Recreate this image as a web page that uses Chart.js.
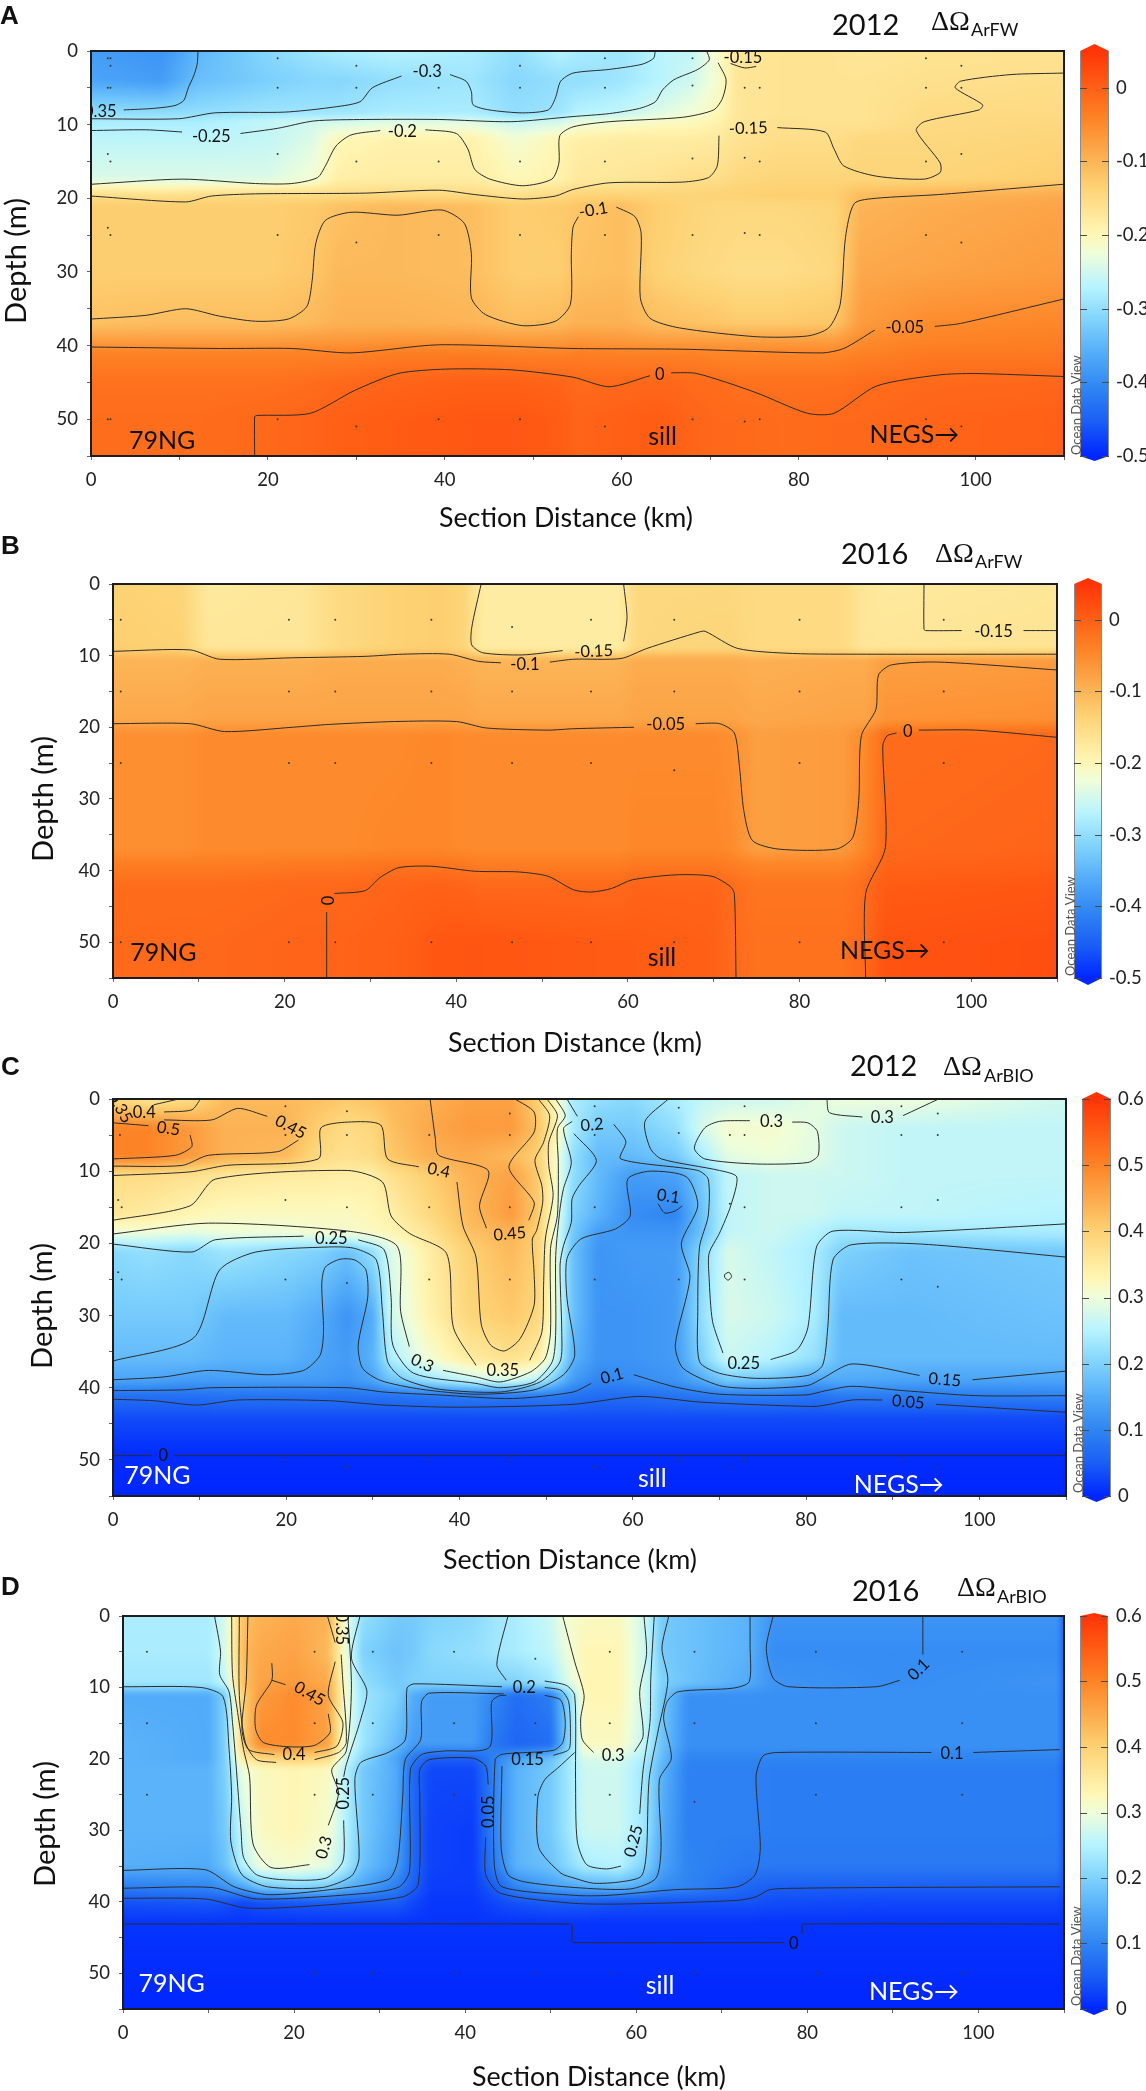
<!DOCTYPE html>
<html>
<head>
<meta charset="utf-8">
<script src="https://cdn.jsdelivr.net/npm/chart.js@4"></script>
<style>
  body { margin: 0; background: #fff; width: 1146px; height: 2091px; position: relative; overflow: hidden; }
  canvas { position: absolute; left: 0; }
</style>
</head>
<body>
<canvas id="cA"></canvas>
<canvas id="cB"></canvas>
<canvas id="cC"></canvas>
<canvas id="cD"></canvas>
<script>
// colour scale, position 0..1 along the colour bar
const cmapStops = [0, .083, .167, .25, .333, .417, .5, .55, .667, .75, .833, .917, 1];
const cmapColors = ["#0026ff", "#1a5ef5", "#2f85f2", "#52abf9", "#7ed2fc", "#b6f3ff", "#effeda", "#fff6b4", "#fdd172", "#fcaa4c", "#fd8426", "#ff5c14", "#ff3508"];

const xTicks = [0, 20, 40, 60, 80, 100];
const depthTicks = [0, 10, 20, 30, 40, 50];
const cbTicksFW = [0, -0.1, -0.2, -0.3, -0.4, -0.5];
const cbTicksBIO = [0.6, 0.5, 0.4, 0.3, 0.2, 0.1, 0];

// ---- Panel A, 2012 dOmega ArFW ----
const xKmA = [0, 8, 12, 20, 25, 28, 34, 43, 48, 53, 55, 60, 64, 68, 71, 73, 78, 84, 87, 95, 110];
const depthA = [0, 4, 8.5, 9.5, 12, 17.5, 19.5, 21, 30, 37, 39.5, 41, 45, 50, 55];
const fieldA = [
  [-.38, -.39, -.35, -.31, -.29, -.28, -.27, -.28, -.30, -.27, -.28, -.29, -.27, -.26, -.21, -.17, -.165, -.165, -.17, -.165, -.165],
  [-.37, -.38, -.34, -.32, -.31, -.31, -.30, -.29, -.31, -.30, -.30, -.29, -.27, -.25, -.215, -.17, -.165, -.165, -.165, -.16, -.155],
  [-.30, -.30, -.30, -.29, -.29, -.29, -.28, -.28, -.30, -.29, -.27, -.26, -.24, -.22, -.20, -.17, -.165, -.165, -.165, -.15, -.15],
  [-.28, -.28, -.28, -.26, -.25, -.25, -.24, -.24, -.26, -.25, -.23, -.22, -.21, -.205, -.19, -.17, -.16, -.165, -.165, -.15, -.145],
  [-.265, -.265, -.265, -.26, -.24, -.20, -.19, -.19, -.22, -.195, -.185, -.18, -.18, -.18, -.175, -.165, -.155, -.155, -.145, -.145, -.14],
  [-.24, -.24, -.24, -.24, -.22, -.185, -.18, -.18, -.20, -.19, -.175, -.17, -.165, -.155, -.155, -.145, -.14, -.14, -.14, -.14, -.13],
  [-.155, -.16, -.155, -.15, -.15, -.15, -.15, -.15, -.16, -.15, -.14, -.14, -.14, -.14, -.135, -.135, -.13, -.13, -.11, -.10, -.09],
  [-.13, -.13, -.13, -.13, -.125, -.115, -.105, -.11, -.13, -.125, -.12, -.11, -.13, -.14, -.145, -.145, -.145, -.14, -.10, -.09, -.08],
  [-.13, -.13, -.13, -.13, -.12, -.105, -.105, -.11, -.13, -.13, -.115, -.11, -.135, -.145, -.15, -.155, -.155, -.145, -.085, -.08, -.07],
  [-.115, -.11, -.11, -.11, -.105, -.095, -.095, -.1, -.11, -.105, -.095, -.095, -.11, -.115, -.12, -.125, -.125, -.12, -.07, -.05, -.045],
  [-.07, -.07, -.07, -.07, -.065, -.065, -.06, -.06, -.065, -.065, -.06, -.065, -.07, -.07, -.07, -.07, -.07, -.07, -.05, -.04, -.035],
  [-.04, -.04, -.04, -.04, -.04, -.04, -.035, -.035, -.04, -.04, -.035, -.04, -.04, -.04, -.045, -.045, -.045, -.045, -.04, -.03, -.03],
  [-.02, -.02, -.02, -.02, -.015, -.01, -.005, 0, 0, -.005, -.012, -.01, -.008, -.012, -.015, -.02, -.02, -.02, -.015, -.01, -.008],
  [-.015, -.015, -.015, -.01, -.005, 0, .005, .01, .01, .005, -.005, 0, .005, -.005, -.01, -.01, -.015, -.01, -.01, -.005, 0],
  [-.015, -.015, -.015, -.01, -.005, 0, .005, .01, .01, .005, -.005, 0, .005, -.005, -.01, -.01, -.015, -.01, -.01, -.005, 0]
];
const contoursA = [
  [[3.7,8],[7,7.8],[9.5,7.4],[10.5,6.7],[11,5],[11.6,3.4],[12,1.8],[12.1,0]],
  [[0,9.2],[9.9,9.2],[14,8.4],[21.9,8.3],[26.9,7.7],[30.4,6.9],[31.8,5],[35.1,3.4]],
  [[40.6,3.2],[42.4,4.1],[43,5.5],[43.2,7.3],[45,8],[48.8,8.4],[51.7,8],[52.5,6.4],[53.1,4.1],[54.5,3],[58.6,2.5],[62.3,1.8],[63.6,1],[63.8,0]],
  [[0,10.8],[6.2,10.7],[10.3,11]],
  [[16.9,11.2],[21.1,10.5],[25.2,9.5],[31,9.3],[39.3,9.3],[47.5,9.6],[54.5,8.9],[58.6,8.5],[62,7.8],[63.8,6.9],[64.6,5.3],[65.9,3.9],[68.6,2.5],[69.9,1.2],[69.6,0]],
  [[0,18.1],[10.3,17.4],[18.6,18],[22.7,18],[25.6,17.2],[26.5,15.6],[27.7,12.9],[29.4,11.4],[32.7,10.8]],
  [[37.8,10.7],[41.3,11.2],[42.6,13.3],[43.4,16.1],[45.1,17.4],[48.8,18.3],[52.1,17.4],[52.9,15.2],[53,11.5],[54.5,10.3],[58.6,9.6],[66.9,9],[70.4,8],[71.4,6.4],[71.8,3.9],[70.9,1.6]],
  [[0,19.7],[10.7,20.5],[13.6,19.7],[18.6,19.4],[31,19.3],[39.3,18.9],[43.4,19.5],[48.8,20.1],[52.5,19.7],[54.5,18.8],[58.6,17.9],[66.9,17.8],[69.8,17.2],[70.8,15.6],[71,11.5]],
  [[77.6,10.4],[83,11],[84,13.3],[85.1,15.6],[88.8,17],[94.2,17.4],[96,16.5],[96,15.2],[93.3,10.8],[94.2,9.6],[100.4,8],[100.8,7.3],[97.7,5],[98.3,4.1],[104,3.2],[109.9,3]],
  [[72.3,1.7],[73.9,2.3],[75.2,2.1]],
  [[0,36.4],[6.2,35.9],[10.7,35],[14.5,36],[18.6,36.7],[22.3,36.4],[24.4,34.7],[25,31.2],[25.4,26.2],[26.5,23],[29.4,21.9],[34.7,22.3],[39.7,21.6],[42.2,23.4],[43,27.5],[43,33.5],[44.6,35.8],[48.8,37.3],[52.5,36.7],[54.2,34.4],[54.3,27.5],[54.5,23.9],[55.1,22.5]],
  [[59.4,21.2],[61.5,22.5],[62.2,24.8],[62.1,33.5],[63.2,36.3],[66.5,37.6],[75.2,38.8],[81,38.7],[83.4,37.6],[84.7,34.4],[85.3,25.3],[86.3,20.7],[88.8,20],[95.8,19.5],[109.9,18.1]],
  [[0,40.2],[14.5,40.4],[22.7,40.4],[29.4,41],[39.3,39.9],[54.5,40.4],[66.9,40.5],[82.6,41],[85.1,40.4],[88.6,37.9]],
  [[95.4,37.4],[98.3,37],[109.9,33.7]],
  [[18.5,55],[18.5,49.7],[18.7,49.5],[24.8,49.2],[29.8,46.1],[34.7,43.8],[40.1,43.2],[47.5,43.3],[54.5,44.3],[58.6,45.6],[63.2,44.1]],
  [[65.6,43.7],[68.5,43.8],[75.2,46.4],[81,49.2],[84,49.2],[88.8,45.5],[95.8,44],[99.9,43.8],[109.9,44.2]]
];
const labelsA = [["-0.35",0.7,8.2,0],["-0.3",38,2.8,0],["-0.25",13.6,11.6,0],["-0.2",35.2,10.9,0],["-0.15",74.3,10.5,-2],["-0.15",73.7,0.9,0],["-0.1",56.8,21.6,-10],["-0.05",92,37.6,0],["0",64.3,43.9,0]];
const stationsA = [
  [1.9,1],[1.9,5],[1.9,14],[1.9,24],[1.9,50],[2.2,1],[2.2,2],[2.2,5],[2.2,15],[2.2,25],[2.2,50],
  [21.1,1],[21.1,5],[21.1,14],[21.1,25],[21.1,50],[30,2],[30,5],[30,15],[30,26],[30,51],
  [39.3,5],[39.3,15],[39.3,25],[39.3,50],[48.5,2],[48.5,5],[48.5,15],[48.5,25],[48.5,50],
  [58.1,1],[58.1,5],[58.1,15],[58.1,25],[58.1,51],[68,1],[68,4.7],[68,14.6],[68,25],[68,50],
  [73.9,5],[73.9,14.5],[73.9,24.7],[73.9,50.3],[75.6,5],[75.6,15],[75.6,25],[75.6,50],
  [94.4,1],[94.4,5],[94.4,15],[94.4,25],[94.4,50],[98.4,2],[98.4,5],[98.4,14],[98.4,26],[98.4,51]
];

// ---- Panel B, 2016 dOmega ArFW ----
const xKmB = [0, 8, 11, 22, 26, 33, 38, 41, 43, 59, 61, 70, 72, 75, 85, 87.5, 90, 110];
const depthB = [0, 9, 10.5, 19, 21, 37, 39, 42, 50, 55];
const fieldB = [
  [-.135, -.14, -.175, -.17, -.15, -.135, -.13, -.14, -.18, -.18, -.145, -.145, -.145, -.15, -.15, -.17, -.175, -.17],
  [-.13, -.135, -.17, -.17, -.15, -.135, -.13, -.14, -.18, -.18, -.145, -.14, -.14, -.15, -.15, -.17, -.17, -.165],
  [-.1, -.1, -.095, -.095, -.09, -.09, -.09, -.095, -.1, -.1, -.09, -.09, -.09, -.095, -.09, -.09, -.075, -.07],
  [-.085, -.085, -.08, -.08, -.08, -.08, -.08, -.08, -.085, -.085, -.08, -.08, -.08, -.085, -.08, -.08, -.06, -.055],
  [-.055, -.055, -.05, -.05, -.05, -.05, -.045, -.05, -.05, -.05, -.05, -.05, -.055, -.075, -.07, -.05, -.015, -.01],
  [-.055, -.055, -.05, -.05, -.05, -.045, -.045, -.05, -.05, -.05, -.045, -.045, -.05, -.075, -.07, -.045, -.01, -.005],
  [-.035, -.035, -.035, -.03, -.03, -.025, -.025, -.03, -.035, -.035, -.03, -.03, -.035, -.045, -.045, -.03, -.005, 0],
  [-.015, -.015, -.015, -.01, -.01, -.005, -.002, -.005, -.01, -.01, -.005, -.005, -.015, -.025, -.025, -.015, .005, .01],
  [-.012, -.01, -.01, -.005, -.005, 0, .01, .012, .012, .005, .005, 0, -.012, -.02, -.02, -.01, .015, .02],
  [-.012, -.01, -.01, -.005, -.005, 0, .01, .012, .012, .005, .005, 0, -.012, -.02, -.02, -.01, .015, .02]
];
const contoursB = [
  [[0,9.4],[9,9.2],[12.4,10.5],[20.9,10.3],[29.4,10.1],[33.7,9.8],[39.2,9.8],[42.6,10.8],[45.2,11]],
  [[50.9,10.9],[53.7,10.5],[59.2,10.4],[62.2,9],[68.3,6.7],[69,6.6],[72.8,9],[79.2,9.7],[87.8,9.8],[110,9.8]],
  [[42.9,0],[41.8,6.1],[41.8,8.5],[43.1,9.6],[47.7,9.9],[52.4,9.3]],
  [[59.5,8],[59.9,4.7],[59.5,0]],
  [[94.5,0],[94.5,6.3],[94.7,6.5],[98.9,6.5]],
  [[106.1,6.5],[110,6.5]],
  [[0,19.5],[9,19.5],[13,20.6],[20.9,20],[25.2,19.6],[32.8,19.2],[40,19.2],[43.5,20.1],[50.7,20.4],[53.7,20.2],[60.7,20]],
  [[67.9,19.5],[70.7,19.5],[72.4,20.8],[73,25.5],[73.5,31.6],[74.5,35.8],[77.5,37],[84.3,37],[86.2,35.4],[86.9,30.2],[87.2,21.2],[88.9,17.5],[89.2,12.7],[90.7,11.3],[96.2,10.9],[110,12]],
  [[24.9,55],[24.9,45.8]],
  [[25.8,43.2],[29.4,42.8],[31.1,41],[33.3,39.6],[37.1,39.4],[42.2,40.1],[47.3,40.2],[50.7,40.8],[53.7,42.7],[55.8,43],[58.1,42.5],[60.5,41.3],[65.6,40.6],[69.8,40.8],[71.9,42.2],[72.4,43.2],[72.6,55]],
  [[87.7,55],[87.7,43.2],[90,36.8],[89.7,22.6],[90.2,21.2],[91.3,20.8]],
  [[93.9,20.4],[100.5,20.4],[110,21.4]]
];
const labelsB = [["-0.15",56,9.4,-3],["-0.1",48,11.2,0],["-0.15",102.6,6.6,0],["-0.05",64.4,19.7,0],["0",92.6,20.6,0],["0",24.9,44.2,90]];
const stationsB = [
  [0.9,5],[0.9,15],[0.9,25],[0.9,50],[20.5,5],[20.5,15],[20.5,25],[20.5,50],[25.9,5],[25.9,15],[25.9,25],[25.9,50],
  [37.1,5],[37.1,15],[37.1,25],[37.1,50],[46.5,6],[46.5,15],[46.5,25],[46.5,50],[55.7,5],[55.7,15],[55.7,25],[55.7,50],
  [65.4,5],[65.4,15],[65.4,26],[65.4,50],[80,5],[80,15],[80,25],[80,50],[96.8,5],[96.8,15],[96.8,25],[96.8,50]
];

// ---- Panel C, 2012 dOmega ArBIO ----
const xKmC = [0, 4, 9, 13, 20, 24, 27, 30, 32, 36, 41, 46, 49, 51, 53, 56, 60, 65, 68, 71, 76, 81, 84, 92, 110];
const depthC = [0, 4, 8, 10.5, 16, 18.5, 21, 30, 36, 39, 41, 44, 49, 55];
const fieldC = [
  [.39, .36, .38, .43, .43, .42, .41, .42, .43, .44, .46, .46, .40, .33, .24, .22, .21, .24, .26, .27, .27, .29, .30, .30, .27],
  [.50, .50, .47, .44, .44, .40, .38, .39, .42, .45, .47, .47, .42, .34, .24, .19, .19, .22, .28, .31, .31, .29, .27, .26, .26],
  [.50, .50, .47, .44, .43, .38, .37, .38, .41, .44, .45, .43, .40, .32, .22, .17, .17, .19, .24, .29, .30, .29, .27, .26, .26],
  [.38, .38, .37, .36, .35, .35, .345, .345, .37, .40, .44, .46, .41, .32, .22, .17, .13, .14, .19, .26, .27, .27, .27, .26, .26],
  [.36, .35, .33, .32, .32, .32, .32, .33, .34, .38, .43, .47, .41, .31, .20, .16, .11, .10, .18, .26, .27, .27, .26, .26, .25],
  [.30, .30, .29, .30, .30, .31, .31, .32, .33, .36, .42, .44, .40, .30, .19, .13, .12, .12, .18, .26, .27, .25, .23, .23, .24],
  [.21, .22, .21, .23, .21, .20, .18, .22, .28, .34, .40, .43, .40, .30, .18, .12, .13, .13, .21, .28, .26, .24, .20, .18, .19],
  [.19, .19, .19, .17, .17, .15, .12, .15, .27, .33, .39, .41, .39, .30, .18, .12, .12, .13, .22, .28, .27, .24, .17, .17, .18],
  [.17, .17, .17, .16, .16, .14, .13, .16, .24, .30, .35, .37, .35, .27, .16, .12, .12, .13, .20, .27, .25, .22, .17, .17, .17],
  [.14, .14, .13, .13, .13, .13, .12, .14, .18, .22, .26, .28, .25, .19, .13, .10, .11, .12, .15, .19, .18, .14, .15, .14, .14],
  [.075, .075, .075, .08, .08, .08, .08, .08, .08, .085, .09, .09, .09, .09, .08, .07, .07, .08, .085, .09, .09, .08, .09, .09, .10],
  [.035, .035, .035, .035, .035, .035, .035, .035, .035, .035, .035, .035, .035, .035, .035, .035, .035, .035, .035, .035, .035, .035, .035, .035, .035],
  [.006, .006, .006, .006, .006, .006, .006, .006, .006, .006, .006, .006, .006, .006, .006, .006, .006, .006, .006, .006, .006, .006, .006, .006, .006],
  [0, 0, 0, 0, 0, 0, 0, 0, 0, 0, 0, 0, 0, 0, 0, 0, 0, 0, 0, 0, 0, 0, 0, 0, 0]
];
const contoursC = [
  [[0,49.4],[4.4,49.4]],
  [[7.1,49.4],[110,49.4]],
  [[0,41.6],[4.7,41.8],[9.7,42.4],[14.4,41.7],[24.9,41.8],[31.3,42.4],[39.7,42.7],[53.1,42.3],[60.7,41.2],[67.9,42],[80.9,42.6],[82.7,42.3],[85.3,41.7],[88.8,41.7]],
  [[95,42.3],[110,43.4]],
  [[0,40.4],[8,40.3],[11.4,40],[27,40],[31.3,40.6],[37.6,41],[46.1,41.5],[53.1,40.6],[55.2,39.4]],
  [[60.1,38.2],[64.9,39.9],[70,40.9],[80,41],[82.3,40.4],[85.3,39.8],[91.2,40.4],[99.6,41.1],[110,41.1]],
  [[0,38.9],[5.9,38.5],[11,37.6],[17.8,38.2],[22,37.6],[23.9,35.5],[24.3,32.2],[24.1,25.6],[24.5,23.3],[26.2,22.2],[27.9,22.3],[29.2,23.7],[29.4,27.5],[28.3,34.1],[28.8,37.3],[30.9,39],[35.5,40.2],[41.9,40.9],[48.6,40.3],[52,38.2],[53.3,35.5],[52.4,27.6],[52.4,22.1],[54,19.4],[58,18],[59.7,16.2],[59.4,11.1],[62,10],[66.2,10.8],[67.5,14.8],[65.6,20],[66.6,24.7],[64.9,34.1],[65.8,37.3],[70,39.7],[74.2,40.1],[80.2,39.7],[81.9,38.7],[85.3,36.7],[93.1,38.3]],
  [[99.2,38.9],[110,37.7]],
  [[0,36.3],[9.3,33.1],[12.3,23.7],[16.5,21.2],[24.9,20.5],[27.9,20.7],[30.4,22.3],[31.1,29.4],[31.7,36.4],[33.4,38.7],[37.6,40.2],[44.7,40.6],[49.3,39.2],[51.6,36.4],[51.8,32.3],[51.6,23],[52,20.3],[52.9,17.1],[53,13.8],[53.8,12],[55.8,8.5],[53.2,4.8]],
  [[52.4,0],[53.6,2.4]],
  [[57.8,3.5],[59.2,5.9],[58.6,8.3],[67.5,9.9],[68.7,11.1],[68.7,16.2],[67.7,20.5],[67.5,29.4],[67.7,36.4],[70,38],[74.2,38.7],[80.2,38.3],[81.9,36.9],[82.5,31.7],[83.1,22.3],[85.2,20.2],[93.3,20.1],[110,21.9]],
  [[0,20.1],[9.1,21.2],[11.8,19.5],[22,19]],
  [[28.3,19.5],[31.3,20.9],[32.1,27.5],[32.3,34.1],[34.7,38],[41.9,39.4],[44.7,40],[48.6,39.2],[50.7,36.4],[51.1,32.3],[51.1,21.7],[51.6,15.2],[52,12.4],[52.9,8.8],[52,4.1],[53,3.1]],
  [[64.1,0],[61.4,3.1],[62,6.8],[63.3,8.3],[70,9.9],[72,10.8],[71.3,14.8],[70,18.6],[68.8,21.4],[68.8,24.7],[69.2,30.8],[70.4,35.2]],
  [[75.9,36.1],[78.9,34.8],[80.2,31.7],[81.2,20.5],[83.1,18.3],[91.2,18.5],[110,17.3]],
  [[0,18.7],[11,17.2],[27.1,18.3],[32.8,20.4],[33.2,29.4],[34.2,34.3]],
  [[38.1,37.6],[41.9,38.5],[44.7,39.2],[48.2,37.8],[49.9,35.9],[50.5,32.3],[50.5,20.7],[51.3,16.1],[51.4,8.8],[51.3,4.1],[52.2,2.3],[51.1,0]],
  [[0,16.8],[8.9,14.8],[11.8,11.1],[27.1,9.9],[31.1,11.5],[32.1,16.2],[34.2,18.6],[38.5,21.4],[39.3,31.7],[41.9,36.9]],
  [[48.1,36.2],[49.5,32.3],[49.7,25.8],[49.9,19.4],[50.8,13.4],[50.3,9.2],[50.3,6],[51.3,2.3],[50.1,0]],
  [[0,10.6],[8.9,10.1],[13.1,9.2],[23.7,8.3],[24,4],[27.1,3.2],[30.9,3.6],[31.7,8.3],[35.3,9.4]],
  [[39.7,11.5],[40.4,17.6],[41.9,21.9],[42.5,31.2],[43.6,34.1],[45.2,34.9],[47,33.2],[48.6,28.6],[48.6,24],[48.4,19.4],[48.9,18.2],[49.6,14.3],[49.5,12],[48.7,8.5],[49.7,6],[50.4,2.3],[49.1,0]],
  [[36.6,0],[37.2,5.4],[37.6,7.8],[43.3,9.9],[42.3,14.8],[43.1,17.9]],
  [[48,16.8],[48.6,14.3],[45.7,9.4],[48.6,4.6],[48.6,1.8],[46.4,0]],
  [[0,3.3],[4.1,3.7]],
  [[8.9,5],[9.1,6.6],[7.2,7.8],[0,8.3]],
  [[5.9,2.9],[11.4,2.9],[14.4,1.3],[17.8,2.4]],
  [[21.4,5.7],[19,7.3],[11,7.8],[8,9.2],[0,9.3]],
  [[5.9,1.8],[9.1,1.5],[10.1,0]],
  [[4.7,0.8],[7.6,0]],
  [[62.9,14.5],[63.7,15.8],[64.9,15.5],[65.7,14.8]],
  [[70.6,24.3],[71.1,24],[71.4,24.6],[71,25.1],[70.6,24.7],[70.6,24.3]],
  [[82.4,0],[82.7,1.9],[86.5,2.5]],
  [[91.2,2.3],[95.3,0]],
  [[73.5,3],[70,3.1],[68.3,4],[67.1,6.8],[68.3,8.3],[74.2,9],[80.2,8.8],[81.4,7.8],[81.3,4.5],[80.2,3.3],[78.4,3.2]]
];
const labelsC = [["0.35",0.8,1.2,60],["0.4",3.6,1.9,0],["0.5",6.4,4.1,8],["0.45",20.5,3.9,28],["0.4",37.6,9.9,12],["0.45",45.8,18.7,-5],["0.35",45,37.6,0],["0.3",35.7,36.6,25],["0.25",25.2,19.3,0],["0.2",55.3,3.6,-5],["0.1",64.1,13.5,8],["0.3",76,3.1,0],["0.3",88.8,2.6,0],["0.25",72.8,36.6,0],["0.15",96,38.9,5],["0.1",57.6,38.4,-15],["0.05",91.8,42,5],["0",5.8,49.4,0]];
const stationsC = [
  [0.6,14],[1,15],[0.6,24],[1,25],[0.8,5],[0.8,50],[19.9,1],[19.9,5],[19.9,14],[19.9,25],[19.9,50],
  [27,1.7],[27,5],[27,15],[27,25.5],[27,51],[36.5,5],[36.5,15],[36.5,25],[36.5,50],[45.8,2],[45.8,5],[45.8,15],[45.8,25],[45.8,50],
  [55.6,1],[55.6,5],[55.6,15],[55.6,25],[55.6,51],[65.3,1.2],[65.3,4.7],[65.3,25],[65.3,50],[71.2,5],[71.2,14.5],[71.2,51],
  [72.9,1],[72.9,5],[72.9,15],[72.9,25],[72.9,50],[91,1],[91,5],[91,15],[91,25],[91,50],[95.2,2],[95.2,5],[95.2,14],[95.2,26],[95.2,51]
];

// ---- Panel D, 2016 dOmega ArBIO ----
const xKmD = [0, 10, 12, 14, 16, 20, 24, 26, 28, 32, 34, 36, 41, 43.5, 46, 50, 52, 54, 58, 61, 63, 66, 73, 76, 90, 109.4, 110];
const depthD = [0, 5, 9.5, 11, 18, 20, 21.5, 30, 35, 38, 40, 43, 55];
const fieldD = [
  [.24, .24, .28, .42, .44, .45, .44, .30, .22, .19, .19, .20, .21, .23, .24, .27, .31, .32, .32, .27, .19, .18, .16, .12, .12, .12, .04],
  [.24, .24, .28, .43, .45, .46, .43, .30, .20, .18, .19, .21, .22, .23, .24, .26, .30, .33, .33, .27, .19, .18, .16, .11, .11, .11, .04],
  [.23, .23, .26, .42, .46, .47, .45, .31, .22, .19, .20, .20, .20, .20, .20, .23, .28, .33, .33, .27, .20, .18, .15, .12, .11, .12, .04],
  [.15, .15, .20, .40, .47, .49, .46, .31, .23, .20, .15, .13, .13, .10, .07, .09, .20, .33, .33, .27, .19, .115, .115, .115, .115, .115, .04],
  [.16, .15, .20, .40, .49, .49, .46, .30, .23, .17, .13, .13, .13, .08, .06, .07, .20, .32, .32, .26, .18, .115, .115, .115, .115, .115, .04],
  [.16, .15, .20, .35, .38, .40, .38, .27, .21, .14, .08, .05, .05, .10, .14, .18, .23, .28, .28, .24, .17, .10, .10, .10, .10, .10, .04],
  [.16, .16, .20, .30, .32, .33, .32, .25, .19, .15, .06, .03, .03, .10, .16, .19, .23, .27, .27, .23, .16, .095, .095, .09, .09, .09, .03],
  [.16, .16, .19, .27, .32, .33, .31, .25, .19, .14, .06, .025, .02, .10, .16, .19, .23, .27, .27, .23, .15, .095, .095, .09, .09, .09, .03],
  [.155, .15, .18, .25, .30, .31, .29, .24, .18, .13, .06, .025, .02, .09, .16, .18, .21, .24, .25, .20, .14, .10, .085, .085, .085, .085, .03],
  [.09, .10, .12, .14, .18, .20, .19, .16, .14, .09, .05, .02, .02, .05, .10, .13, .14, .15, .16, .14, .11, .10, .06, .05, .05, .05, .03],
  [.04, .045, .04, .03, .04, .045, .05, .05, .05, .05, .03, .015, .015, .03, .04, .05, .05, .05, .04, .04, .04, .04, .04, .035, .03, .03, .02],
  [.012, .012, .012, .012, .012, .012, .012, .012, .012, .012, .012, .012, .012, .012, .012, .012, .012, .012, .012, .012, .012, .012, .012, .012, .012, .012, .01],
  [0, 0, 0, 0, 0, 0, 0, 0, 0, 0, 0, 0, 0, 0, 0, 0, 0, 0, 0, 0, 0, 0, 0, 0, 0, 0, 0]
];
const contoursD = [
  [[0,43.1],[52.3,43.1],[52.5,43.3],[52.5,45.5],[52.7,45.7],[77.3,45.7]],
  [[79.4,44.5],[79.4,43.3],[79.6,43.1],[109.5,43.1]],
  [[0,39.5],[9.6,39.6],[14.7,40.9],[24.2,40.4],[32.7,39.3],[34.5,37.6],[34.7,25.3],[34.7,21.5],[35.8,20.1],[40.9,19.9],[42.4,21],[42.7,23.6]],
  [[42.4,31],[42.4,36.2],[44.1,38.8],[52.6,40.2],[59,40.3],[71.8,39.8],[74,39.3],[75.6,38.3],[79,38.1],[89,38],[109.5,37.9]],
  [[0,38.1],[10.4,38],[15.6,39.6],[28.5,38.8],[32.3,37.9],[33.5,35.7],[33.6,21.5],[34.9,19.4],[37.5,18.9],[42.8,18.4],[43.1,12],[43.9,11.2],[44.8,11.1]],
  [[0,35.6],[9.6,35.5],[13,37.9],[17,39],[24.2,38.3],[31,36.9],[32.1,34.3],[32.7,25.3],[33,20.1],[34.8,17.3],[34.9,12],[35.8,10.8],[44.5,10.9]],
  [[49.3,11.1],[51.2,11.8],[51.7,14.9],[51.4,17.7],[50.3,18.8],[45.6,19.2],[44.2,19.4],[43.5,20.1],[43.4,34.8],[44.3,37.9],[52.8,39.1],[56.7,39.1],[64.5,38.3],[71.8,37.9],[73.9,36.2],[74.5,32.4],[74,22.5],[74.8,19.6],[76.5,19.1],[94.5,19.1]],
  [[99.4,19.1],[109.5,18.7]],
  [[0,9.9],[9.1,10],[11.7,11.3],[12.4,18.7],[12.7,25.3],[12.6,31.5],[13.9,36.2],[16.9,37.9],[23.3,38],[26.7,36.4],[27.6,33.8],[27.1,22.9],[27.8,20.5],[31,19.1],[33,17.3],[33.2,10.1],[34,9.5],[44.3,9.9]],
  [[49.3,10],[51.2,10.4],[52.1,12],[52.3,16.8],[52.1,18.7],[50.3,19.5]],
  [[44.3,21],[44.2,32.4],[45,36.2],[46.9,37.2],[52.8,38],[59.3,38.2],[62.3,36.7],[62.9,32.4],[62.7,22.9],[64.1,19.9],[63.2,14.4],[63.6,12],[64.9,10.6],[71.3,10.1],[73.2,9.2],[73.3,4],[73.3,0]],
  [[52.8,19.1],[50.8,21.3],[49.3,22.9],[48.5,25.3],[48.6,32.4],[51.2,36],[52.8,36.7],[55,37.4],[58.2,37.2],[60.6,36.4],[61.2,32.9],[61.5,22.9],[62.6,15.8],[63.7,9],[63,4.5],[63.8,0]],
  [[45,0],[43.7,6.8],[44.8,9]],
  [[49.3,9.1],[51.8,9.7],[52.8,11.1],[52.9,22.9],[53.1,31.5],[54.2,34.8],[56.5,35.4],[58.2,35]],
  [[60.4,27.7],[60.8,21.5],[61.6,14.9],[61.7,8.7],[62.1,0]],
  [[51.4,0],[52.8,6.4],[53.9,11.1],[53.5,14.4],[53.7,17.3],[55,19.1]],
  [[59.8,19],[60.8,16.8],[60.4,10.6],[61.2,5.4],[60.9,0]],
  [[76,0],[75.2,4.5],[76,8.7],[77.8,9.9],[88.1,9.9],[90.8,9]],
  [[93.5,5.4],[93.5,0]],
  [[10.7,0],[11.4,4.9],[11.3,8.2],[12.4,10.6],[12.8,14.9],[13.2,20.6],[13.8,30],[14.1,33.8],[15.6,36.2],[18.6,36.9],[23.7,36.7],[25.7,34.3],[25.8,28.6]],
  [[25.8,22.5],[26.1,20.8],[27.8,14.4],[28.5,10.4],[26.7,5.9],[27.7,0]],
  [[12.7,0],[12.8,8.2],[13.4,13.5],[14.1,18.7],[14.8,22.5],[15.2,31.9],[17.3,35.2],[21.8,34.8]],
  [[24,29.3],[25.2,24.8],[24.4,21.5],[26.1,18.9],[26.7,10.1],[26.3,0]],
  [[13.6,0],[13.6,11.1],[14.3,17.7],[15.6,20.1],[17.9,20.5]],
  [[22.4,20.1],[25.2,19.1],[26.1,17.7],[25.7,9.2],[25.5,5.4]],
  [[14.6,0],[14.4,9.2],[13.9,15.8],[14.7,18.7],[17.7,19.4]],
  [[22.4,19.1],[25,18.2],[25.7,14.9],[24,11.1],[24.8,6.4]],
  [[23.9,0],[24.8,3.7]],
  [[17.4,6.6],[17.4,9],[15.6,12.5],[15.5,15.8],[16.4,17.7],[19.4,18.3],[22.4,18.1],[24.2,16.3],[24,13.7]],
  [[17.4,9],[19,9.6]]
];
const labelsD = [["0.35",25.5,1.8,90],["0.45",21.8,10.9,30],["0.4",20,19.4,0],["0.25",25.8,24.8,-90],["0.3",23.5,32.4,-75],["0.05",42.7,27.4,-90],["0.2",46.9,10.1,0],["0.15",47.3,20.1,0],["0.3",57.3,19.6,0],["0.25",59.7,31.5,-75],["0.1",93,7.5,-45],["0.1",96.9,19.2,0],["0",78.4,45.8,0]];
const stationsD = [
  [2.8,5],[2.8,15],[2.8,25],[22.4,5],[22.4,15],[22.4,25],[22.4,50],[29.2,5],[29.2,15],[29.2,25],[29.2,50],
  [38.7,5],[38.7,15],[38.7,25],[38.7,50],[48.2,6],[48.2,15],[48.2,25],[48.2,50],[56.9,5],[56.9,15],[56.9,25],[56.9,50],
  [66.8,5],[66.8,15],[66.8,26],[66.8,50],[81,5],[81,15],[81,25],[81,50],[98.1,5],[98.1,15],[98.1,25],[98.1,50]
];

// place names inside each panel: text, km, depth
const placesA = [["79NG",4.3,54],["sill",63,53.5],["NEGS→",88,53.2]];
const placesB = [["79NG",2,52.6],["sill",62.3,53.3],["NEGS→",84.7,52.4]];
const placesC = [["79NG",1.3,53.3],["sill",60.6,53.8],["NEGS→",85.5,54.6]];
const placesD = [["79NG",1.8,52.6],["sill",61.1,52.9],["NEGS→",87.2,53.7]];

const panels = [
  { id: "cA", letter: "A", top: 0, height: 545, left: 91, right: 1064, pTop: 51, pBottom: 456, letterX: 0, letterY: 24,
    year: "2012", yearX: 832, yearY: 35, omX: 931, omY: 30, sub: "ArFW", subX: 971, subY: 36,
    barL: 1080, barR: 1109, tipTop: 44, tipBot: 461, odvX: 1077, odvY: 455,
    depthX: 17, depthY: 261, distX: 566, distY: 518, range: [-0.5, 0.05], cbTicks: cbTicksFW,
    xKm: xKmA, depth: depthA, field: fieldA, contours: contoursA, labels: labelsA, stations: stationsA, places: placesA, placeColor: "#111" },
  { id: "cB", letter: "B", top: 535, height: 530, left: 113, right: 1057, pTop: 584, pBottom: 978, letterX: 1, letterY: 554,
    year: "2016", yearX: 841, yearY: 564, omX: 935, omY: 562, sub: "ArFW", subX: 975, subY: 568,
    barL: 1074, barR: 1102, tipTop: 578, tipBot: 985, odvX: 1071, odvY: 976,
    depthX: 44, depthY: 799, distX: 575, distY: 1043, range: [-0.5, 0.05], cbTicks: cbTicksFW,
    xKm: xKmB, depth: depthB, field: fieldB, contours: contoursB, labels: labelsB, stations: stationsB, places: placesB, placeColor: "#111" },
  { id: "cC", letter: "C", top: 1052, height: 530, left: 113, right: 1066, pTop: 1099, pBottom: 1496, letterX: 1, letterY: 1075,
    year: "2012", yearX: 850, yearY: 1076, omX: 943, omY: 1075, sub: "ArBIO", subX: 984, subY: 1082,
    barL: 1082, barR: 1111, tipTop: 1092, tipBot: 1502, odvX: 1079, odvY: 1493,
    depthX: 43, depthY: 1306, distX: 570, distY: 1560, range: [0, 0.6], cbTicks: cbTicksBIO,
    xKm: xKmC, depth: depthC, field: fieldC, contours: contoursC, labels: labelsC, stations: stationsC, places: placesC, placeColor: "#fff" },
  { id: "cD", letter: "D", top: 1574, height: 517, left: 123, right: 1064, pTop: 1616, pBottom: 2009, letterX: 1, letterY: 1595,
    year: "2016", yearX: 852, yearY: 1601, omX: 957, omY: 1596, sub: "ArBIO", subX: 997, subY: 1603,
    barL: 1080, barR: 1108, tipTop: 1613, tipBot: 2015, odvX: 1077, odvY: 2006,
    depthX: 46, depthY: 1824, distX: 599, distY: 2077, range: [0, 0.6], cbTicks: cbTicksBIO,
    xKm: xKmD, depth: depthD, field: fieldD, contours: contoursD, labels: labelsD, stations: stationsD, places: placesD, placeColor: "#fff" }
];

const fontFam = "Lato, 'DejaVu Sans', sans-serif";
const cmapRgb = cmapColors.map(c => [parseInt(c.slice(1, 3), 16), parseInt(c.slice(3, 5), 16), parseInt(c.slice(5, 7), 16)]);

function colorAt(t) {
  t = Math.min(1, Math.max(0, t));
  let i = 0;
  while (i < cmapStops.length - 2 && t > cmapStops[i + 1]) i++;
  const f = (t - cmapStops[i]) / (cmapStops[i + 1] - cmapStops[i]);
  return cmapRgb[i].map((c, k) => Math.round(c + (cmapRgb[i + 1][k] - c) * f));
}

function knotPos(knots, v) {
  let i = 0;
  while (i < knots.length - 2 && v > knots[i + 1]) i++;
  const f = (v - knots[i]) / (knots[i + 1] - knots[i]);
  return [i, Math.min(1, Math.max(0, f))];
}

// the gridded section field, painted pixel by pixel through the chart's scales
function paintField(chart, p) {
  const { left, top, width, height } = chart.chartArea;
  const off = document.createElement("canvas");
  off.width = width; off.height = height;
  const octx = off.getContext("2d");
  const img = octx.createImageData(width, height);
  const xPos = [];
  for (let i = 0; i < width; i++) xPos.push(knotPos(p.xKm, chart.scales.x.getValueForPixel(left + i + 0.5)));
  let n = 0;
  for (let j = 0; j < height; j++) {
    const [r, fr] = knotPos(p.depth, chart.scales.y.getValueForPixel(top + j + 0.5));
    const a = p.field[r], b = p.field[r + 1];
    for (let i = 0; i < width; i++) {
      const [c, fc] = xPos[i];
      const v = (a[c] * (1 - fc) + a[c + 1] * fc) * (1 - fr) + (b[c] * (1 - fc) + b[c + 1] * fc) * fr;
      const col = colorAt((v - p.range[0]) / (p.range[1] - p.range[0]));
      img.data[n++] = col[0]; img.data[n++] = col[1]; img.data[n++] = col[2]; img.data[n++] = 255;
    }
  }
  octx.putImageData(img, 0, 0);
  return off;
}

// scales must not reserve room for half a tick label, the plot box is fixed
function noOverflow(s) {
  s.paddingTop = 0; s.paddingBottom = 0; s.paddingLeft = 0; s.paddingRight = 0;
}

const sectionPlugin = {
  id: "section",
  beforeDatasetsDraw(chart, args, opts) {
    const p = opts.panel, a = chart.chartArea, ctx = chart.ctx;
    if (!p.fieldImg) p.fieldImg = paintField(chart, p);
    ctx.save();
    ctx.beginPath(); ctx.rect(a.left, a.top, a.width, a.height); ctx.clip();
    ctx.drawImage(p.fieldImg, a.left, a.top);
    ctx.filter = "blur(2.5px)";
    ctx.drawImage(p.fieldImg, a.left, a.top);
    ctx.restore();
  },
  afterDatasetsDraw(chart, args, opts) {
    const p = opts.panel, a = chart.chartArea, ctx = chart.ctx;
    const sx = chart.scales.x, sy = chart.scales.y, cb = chart.scales.cb;

    // contour labels, cut off by the plot edge
    ctx.save();
    ctx.beginPath(); ctx.rect(a.left, a.top, a.width, a.height); ctx.clip();
    ctx.fillStyle = "#111";
    ctx.font = "16.5px " + fontFam;
    ctx.textAlign = "center"; ctx.textBaseline = "middle";
    p.labels.forEach(([txt, km, d, rot]) => {
      ctx.save();
      ctx.translate(sx.getPixelForValue(km), sy.getPixelForValue(d));
      ctx.rotate(rot * Math.PI / 180);
      ctx.fillText(txt, 0, 0);
      ctx.restore();
    });
    ctx.font = "25px " + fontFam;
    ctx.fillStyle = p.placeColor;
    ctx.textAlign = "left"; ctx.textBaseline = "alphabetic";
    p.places.forEach(([txt, km, d]) => ctx.fillText(txt, sx.getPixelForValue(km), sy.getPixelForValue(d)));
    ctx.restore();

    // frame
    ctx.strokeStyle = "#1c1c1c"; ctx.lineWidth = 2;
    ctx.strokeRect(a.left, a.top, a.width, a.height);

    // colour bar
    const off = p.top;
    const yMax = cb.getPixelForValue(p.range[1]), yMin = cb.getPixelForValue(p.range[0]);
    const topCol = colorAt(1), botCol = colorAt(0);
    ctx.beginPath();
    ctx.moveTo(p.barL, yMax); ctx.lineTo((p.barL + p.barR) / 2, p.tipTop - off); ctx.lineTo(p.barR, yMax);
    ctx.fillStyle = `rgb(${topCol})`; ctx.fill();
    ctx.beginPath();
    ctx.moveTo(p.barL, yMin); ctx.lineTo((p.barL + p.barR) / 2, p.tipBot - off); ctx.lineTo(p.barR, yMin);
    ctx.fillStyle = `rgb(${botCol})`; ctx.fill();
    for (let y = Math.floor(yMax); y <= yMin; y++) {
      const t = (cb.getValueForPixel(y + 0.5) - p.range[0]) / (p.range[1] - p.range[0]);
      ctx.fillStyle = `rgb(${colorAt(t)})`;
      ctx.fillRect(p.barL, y, p.barR - p.barL, 1);
    }
    ctx.fillStyle = "#8c8c8c";
    ctx.fillRect(p.barL, yMax, 1, yMin - yMax);
    ctx.fillRect(p.barR - 1, yMax, 1, yMin - yMax);
    ctx.fillStyle = "#4a4a4a";
    p.cbTicks.forEach(v => {
      const y = Math.round(cb.getPixelForValue(v));
      ctx.fillRect(p.barL, y, 7, 1);
      ctx.fillRect(p.barR - 7, y, 7, 1);
    });

    // texts around the plot
    ctx.save();
    ctx.fillStyle = "#111"; ctx.textAlign = "left"; ctx.textBaseline = "alphabetic";
    ctx.font = "bold 26px 'Liberation Sans', sans-serif";
    ctx.fillText(p.letter, p.letterX, p.letterY - off);
    ctx.font = "29px " + fontFam;
    ctx.fillText(p.year, p.yearX, p.yearY - off);
    ctx.font = "28px 'Liberation Serif', serif";
    ctx.fillText("ΔΩ", p.omX, p.omY - off);
    ctx.font = "18px " + fontFam;
    ctx.fillText(p.sub, p.subX, p.subY - off);
    ctx.font = "26.8px " + fontFam;
    ctx.textAlign = "center"; ctx.textBaseline = "middle";
    ctx.fillText("Section Distance (km)", p.distX, p.distY - off);
    ctx.translate(p.depthX, p.depthY - off);
    ctx.rotate(-Math.PI / 2);
    ctx.font = "29px " + fontFam;
    ctx.fillText("Depth (m)", 0, 0);
    ctx.restore();

    ctx.save();
    ctx.translate(p.odvX, p.odvY - off);
    ctx.rotate(-Math.PI / 2);
    ctx.fillStyle = "#555"; ctx.font = "13px " + fontFam;
    ctx.textAlign = "left"; ctx.textBaseline = "middle";
    ctx.fillText("Ocean Data View", 0, 0);
    ctx.restore();
  }
};

function makePanel(p) {
  const canvas = document.getElementById(p.id);
  canvas.width = 1146; canvas.height = p.height;
  canvas.style.top = p.top + "px";
  const yW = 60, xH = 40;
  const datasets = p.contours.map(pts => ({
    data: pts.map(([x, y]) => ({ x, y })),
    showLine: true, borderColor: "#2c2c2c", borderWidth: 1, pointRadius: 0, tension: 0.25, fill: false
  }));
  datasets.push({
    data: p.stations.map(([x, y]) => ({ x, y })),
    showLine: false, pointRadius: 1, pointBorderWidth: 0, backgroundColor: "#3a3a3a"
  });
  return new Chart(canvas, {
    type: "scatter",
    data: { datasets },
    plugins: [sectionPlugin],
    options: {
      responsive: false,
      animation: false,
      events: [],
      layout: { padding: { left: p.left - yW, right: 0, top: p.pTop - p.top, bottom: p.top + p.height - p.pBottom - xH } },
      plugins: { legend: { display: false }, tooltip: { enabled: false }, section: { panel: p } },
      scales: {
        x: {
          type: "linear", min: 0, max: 110, position: "bottom",
          afterFit(s) { s.height = xH; noOverflow(s); },
          border: { display: false },
          grid: { drawOnChartArea: false, tickLength: 4, tickColor: "#666" },
          ticks: {
            stepSize: 10, autoSkip: false, maxRotation: 0, padding: 9, color: "#222", font: { family: fontFam, size: 18.5 },
            callback: v => xTicks.includes(v) ? String(v) : ""
          }
        },
        y: {
          type: "linear", min: 0, max: 55, reverse: true, position: "left",
          afterFit(s) { s.width = yW; noOverflow(s); },
          border: { display: false },
          grid: { drawOnChartArea: false, tickLength: 4, tickColor: "#666" },
          ticks: {
            stepSize: 5, autoSkip: false, padding: 9, color: "#222", font: { family: fontFam, size: 18.5 },
            callback: v => depthTicks.includes(v) ? String(v) : ""
          }
        },
        cb: {
          type: "linear", axis: "y", min: p.range[0], max: p.range[1], position: "right",
          afterFit(s) { s.width = 1146 - p.right; noOverflow(s); },
          afterBuildTicks(s) { s.ticks = p.cbTicks.map(value => ({ value })); },
          border: { display: false },
          grid: { drawOnChartArea: false, drawTicks: false },
          ticks: { padding: 52, color: "#222", font: { family: fontFam, size: 18.5 }, callback: v => String(v) }
        }
      }
    }
  });
}

panels.forEach(makePanel);
</script>
</body>
</html>
